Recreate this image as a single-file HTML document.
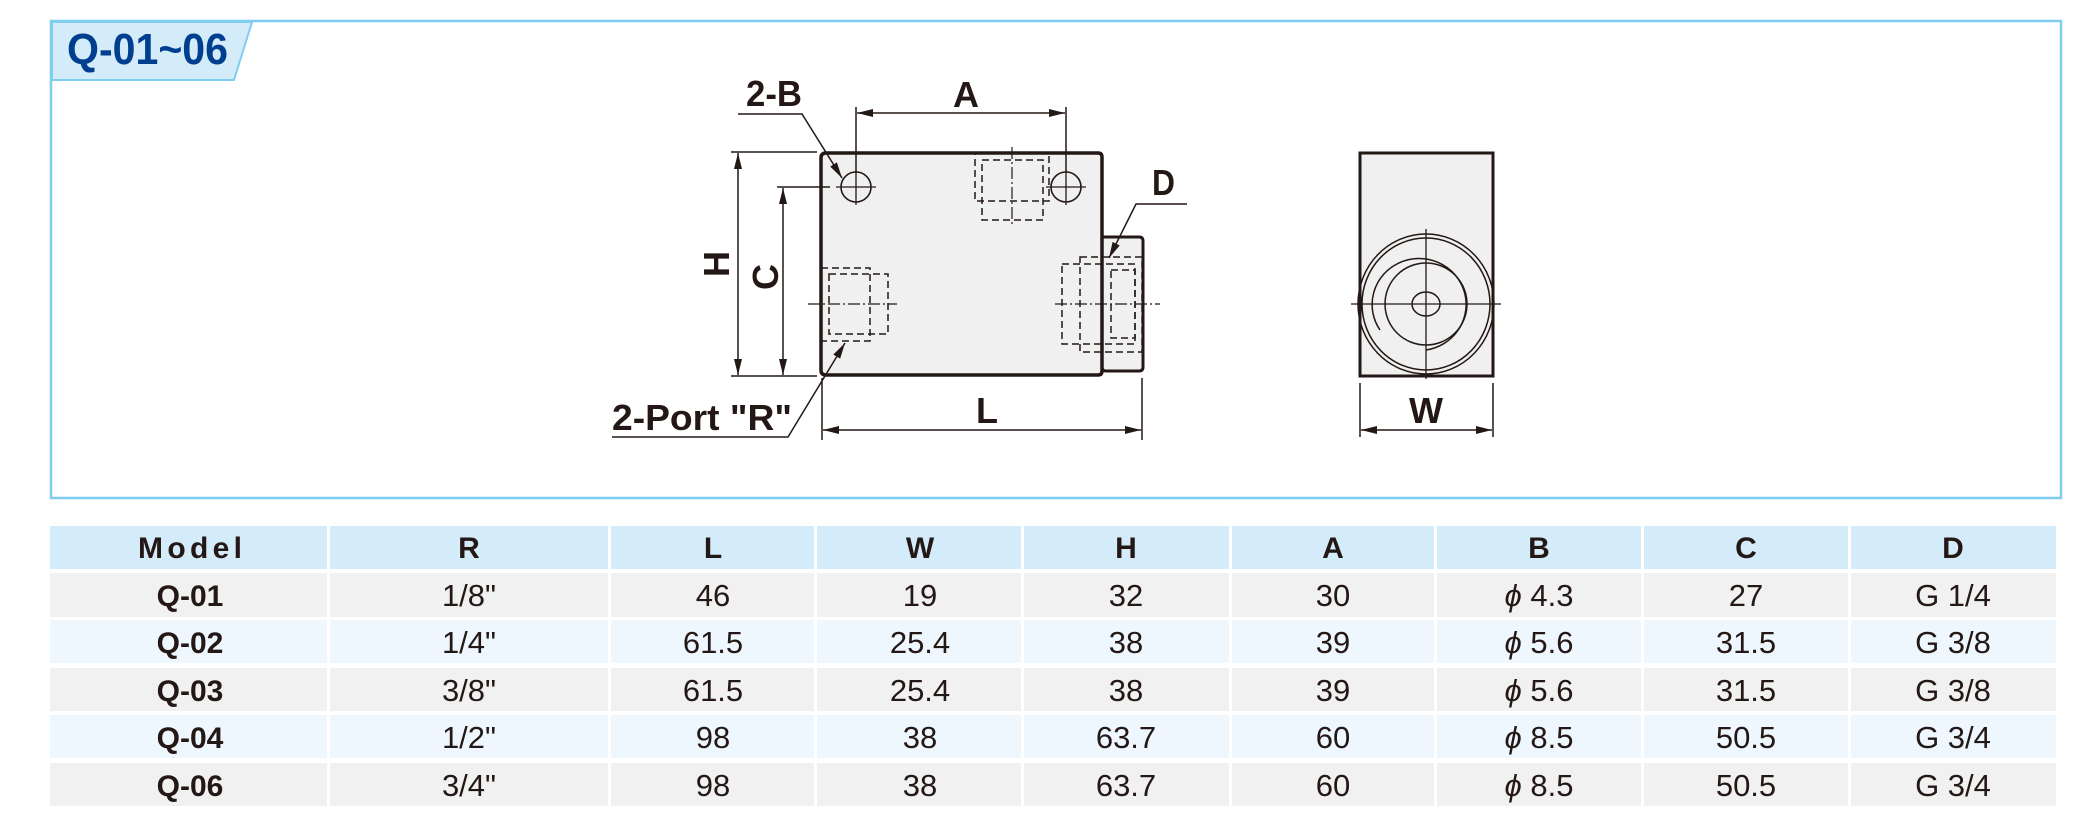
<!DOCTYPE html>
<html><head><meta charset="utf-8"><style>
html,body{margin:0;padding:0;background:#fff;}
svg{display:block;}
text{font-family:"Liberation Sans",sans-serif;fill:#231815;}
</style></head><body>
<svg width="2079" height="819" viewBox="0 0 2079 819" xmlns="http://www.w3.org/2000/svg">
<defs>
<marker id="ar" viewBox="0 0 16 8" refX="16" refY="4" markerWidth="16" markerHeight="8" markerUnits="userSpaceOnUse" orient="auto-start-reverse">
<path d="M0,0 L16,4 L0,8 Z" fill="#231815"/></marker>
</defs>
<!-- frame -->
<rect x="51" y="21" width="2010" height="477" fill="#fff" stroke="#7fcdf0" stroke-width="2.5"/>
<path d="M52,22 L252,22 L234,80 L52,80 Z" fill="#d4ecf9" stroke="#7fcdf0" stroke-width="2"/>
<text x="67" y="64" font-size="44" font-weight="bold" style="fill:#003f8f" textLength="161" lengthAdjust="spacingAndGlyphs">Q-01~06</text>

<!-- main body -->
<g stroke="#231815" fill="none">
<path d="M1102,237 L1139,237 Q1143,237 1143,241 L1143,367 Q1143,371 1139,371 L1106,371 Q1102,371 1102,367 Z" fill="#f0f0f0" stroke-width="3"/>
<path d="M826,153 L1098,153 Q1102,153 1102,157 L1102,371 Q1102,375 1098,375 L826,375 Q821,375 821,370 L821,158 Q821,153 826,153 Z" fill="#f0f0f0" stroke-width="3.5"/>
<!-- holes -->
<circle cx="856" cy="187" r="15" stroke-width="1.6"/>
<circle cx="1066" cy="187" r="15" stroke-width="1.6"/>
<path d="M836,187 L876,187 M856,170 L856,205 M1046,187 L1086,187 M1066,170 L1066,205" stroke-width="1.3"/>
<!-- dashed ports -->
<g stroke-width="1.5" stroke-dasharray="7,4">
<rect x="975" y="153" width="74" height="48"/>
<rect x="982" y="160" width="61" height="60"/>
<rect x="821" y="268" width="49" height="73"/>
<rect x="829" y="274" width="59" height="60"/>
<rect x="1062" y="264" width="73" height="80"/>
<rect x="1080" y="257" width="62" height="95"/>
<rect x="1111" y="270" width="24" height="68"/>
</g>
<g stroke-width="1.2" stroke-dasharray="12,3,2,3">
<path d="M1012,147 L1012,226 M808,304 L897,304 M1055,304 L1160,304"/>
</g>
<!-- dims -->
<g stroke-width="1.5">
<path d="M731,152 L817,152 M731,376 L817,376 M777,187 L830,187"/>
<path d="M738,153 L738,375" marker-start="url(#ar)" marker-end="url(#ar)"/>
<path d="M783,188 L783,375" marker-start="url(#ar)" marker-end="url(#ar)"/>
<path d="M856,107 L856,172 M1066,107 L1066,172"/>
<path d="M857,113 L1065,113" marker-start="url(#ar)" marker-end="url(#ar)"/>
<path d="M738,114 L802,114 L842,178" marker-end="url(#ar)"/>
<path d="M1187,204 L1136,204 L1109,258" marker-end="url(#ar)"/>
<path d="M612,437 L788,437 L845,343" marker-end="url(#ar)"/>
<path d="M822,378 L822,440 M1142,378 L1142,440"/>
<path d="M823,430 L1141,430" marker-start="url(#ar)" marker-end="url(#ar)"/>
</g>
</g>
<g font-weight="bold" font-size="36">
<text x="746" y="106" textLength="56" lengthAdjust="spacingAndGlyphs">2-B</text>
<text x="966" y="107" text-anchor="middle">A</text>
<text x="1152" y="195" textLength="23" lengthAdjust="spacingAndGlyphs">D</text>
<text x="612" y="430" textLength="180" lengthAdjust="spacingAndGlyphs">2-Port "R"</text>
<text x="987" y="423" text-anchor="middle">L</text>
<text transform="translate(729,264) rotate(-90)" text-anchor="middle">H</text>
<text transform="translate(778,277) rotate(-90)" text-anchor="middle">C</text>
<text x="1426" y="423" text-anchor="middle">W</text>
</g>

<!-- side view -->
<g stroke="#231815" fill="none">
<rect x="1360" y="153" width="133" height="223" fill="#f0f0f0" stroke-width="3"/>
<path d="M1360,153 L1360,376 M1493,153 L1493,376" stroke-width="2"/>
<ellipse cx="1426" cy="304" rx="68" ry="70" stroke-width="1.5"/>
<ellipse cx="1426" cy="304" rx="64" ry="66" stroke-width="1.5"/>
<path d="M1380,330 A47,46 0 1 1 1426,350" stroke-width="1.5"/>
<ellipse cx="1426" cy="304" rx="41" ry="41" stroke-width="1.5"/>
<ellipse cx="1426" cy="304" rx="14" ry="12" stroke-width="1.5"/>
<path d="M1351,304 L1501,304 M1426,229 L1426,379" stroke-width="1.3"/>
<path d="M1360,383 L1360,437 M1493,383 L1493,437" stroke-width="1.5"/>
<path d="M1361,430 L1492,430" stroke-width="1.5" marker-start="url(#ar)" marker-end="url(#ar)"/>
</g>

<!-- table -->
<g>
<rect x="50" y="526" width="2006" height="43" fill="#d4ecf9"/>
<rect x="50" y="573" width="2006" height="44" fill="#f1f1f1"/>
<rect x="50" y="620" width="2006" height="43" fill="#eef7fe"/>
<rect x="50" y="668" width="2006" height="43" fill="#f1f1f1"/>
<rect x="50" y="715" width="2006" height="43" fill="#eef7fe"/>
<rect x="50" y="763" width="2006" height="43" fill="#f1f1f1"/>
<g fill="#fff">
<rect x="327" y="520" width="3" height="290"/>
<rect x="608" y="520" width="3" height="290"/>
<rect x="814" y="520" width="3" height="290"/>
<rect x="1021" y="520" width="3" height="290"/>
<rect x="1229" y="520" width="3" height="290"/>
<rect x="1434" y="520" width="3" height="290"/>
<rect x="1641" y="520" width="3" height="290"/>
<rect x="1848" y="520" width="3" height="290"/>
</g>
</g>
<g font-size="30" font-weight="bold" text-anchor="middle">
<text x="190" y="558" textLength="104" lengthAdjust="spacing">Model</text>
<text x="469" y="558">R</text><text x="713" y="558">L</text><text x="920" y="558">W</text>
<text x="1126" y="558">H</text><text x="1333" y="558">A</text><text x="1539" y="558">B</text>
<text x="1746" y="558">C</text><text x="1953" y="558">D</text>
</g>
<g font-size="30" font-weight="bold" text-anchor="middle">
<text x="190" y="606">Q-01</text><text x="190" y="653">Q-02</text><text x="190" y="701">Q-03</text>
<text x="190" y="748">Q-04</text><text x="190" y="796">Q-06</text>
</g>
<g font-size="31" text-anchor="middle">
<text x="469" y="606">1/8"</text><text x="713" y="606">46</text><text x="920" y="606">19</text><text x="1126" y="606">32</text><text x="1333" y="606">30</text><text x="1539" y="606"><tspan font-style="italic">ϕ</tspan> 4.3</text><text x="1746" y="606">27</text><text x="1953" y="606">G 1/4</text>
<text x="469" y="653">1/4"</text><text x="713" y="653">61.5</text><text x="920" y="653">25.4</text><text x="1126" y="653">38</text><text x="1333" y="653">39</text><text x="1539" y="653"><tspan font-style="italic">ϕ</tspan> 5.6</text><text x="1746" y="653">31.5</text><text x="1953" y="653">G 3/8</text>
<text x="469" y="701">3/8"</text><text x="713" y="701">61.5</text><text x="920" y="701">25.4</text><text x="1126" y="701">38</text><text x="1333" y="701">39</text><text x="1539" y="701"><tspan font-style="italic">ϕ</tspan> 5.6</text><text x="1746" y="701">31.5</text><text x="1953" y="701">G 3/8</text>
<text x="469" y="748">1/2"</text><text x="713" y="748">98</text><text x="920" y="748">38</text><text x="1126" y="748">63.7</text><text x="1333" y="748">60</text><text x="1539" y="748"><tspan font-style="italic">ϕ</tspan> 8.5</text><text x="1746" y="748">50.5</text><text x="1953" y="748">G 3/4</text>
<text x="469" y="796">3/4"</text><text x="713" y="796">98</text><text x="920" y="796">38</text><text x="1126" y="796">63.7</text><text x="1333" y="796">60</text><text x="1539" y="796"><tspan font-style="italic">ϕ</tspan> 8.5</text><text x="1746" y="796">50.5</text><text x="1953" y="796">G 3/4</text>
</g>
</svg>
</body></html>
